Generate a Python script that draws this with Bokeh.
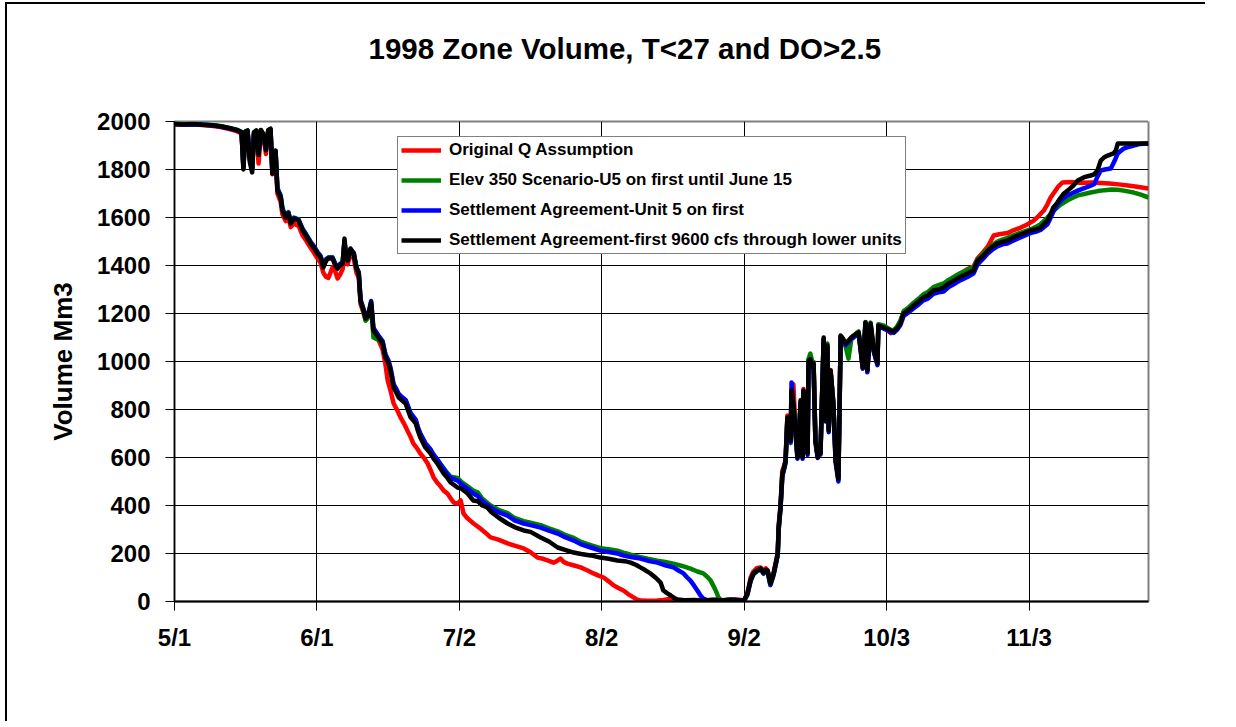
from bokeh.plotting import figure
from bokeh.models import FixedTicker, Range1d, LinearAxis, Title
from bokeh.embed import file_html
from bokeh.resources import INLINE

# ---------------- data (days after 5/1/1998, volume Mm3) ----------------
tick_days = [0, 31, 62, 93, 124, 155, 186]
tick_labels = ["5/1", "6/1", "7/2", "8/2", "9/2", "10/3", "11/3"]
y_ticks = [0, 200, 400, 600, 800, 1000, 1200, 1400, 1600, 1800, 2000]

series_names = [
    "Original Q Assumption",
    "Elev 350 Scenario-U5 on first until June 15",
    "Settlement Agreement-Unit 5 on first",
    "Settlement Agreement-first 9600 cfs through lower units",
]
series_colors = ["#FF0000", "#008000", "#0000FF", "#000000"]

red_day = [0, 2, 4, 6, 8, 10, 12, 13.5, 14.6, 15.0, 15.4, 15.9, 16.4, 16.9, 17.3, 17.8, 18.3, 18.8, 19.4, 19.9, 20.4, 20.9, 21.3, 21.7, 22.0, 22.4, 23.1, 23.5, 24.2, 24.8, 25.3, 26.0, 27.0, 27.9, 28.6, 29.6, 30.3, 31.1, 31.8, 32.4, 33.0, 33.5, 34.4, 35.0, 35.5, 36.0, 36.6, 37.0, 37.3, 37.7, 38.3, 39.0, 39.6, 40.1, 40.5, 41.1, 41.6, 42.2, 42.8, 43.3, 44.4, 45.3, 45.9, 46.4, 47.0, 47.7, 48.4, 49.2, 50.0, 50.7, 51.4, 52.0, 52.8, 53.5, 54.3, 55.1, 55.8, 56.4, 57.2, 57.9, 58.6, 59.4, 60.1, 60.8, 61.6, 62.3, 62.9, 63.6, 64.3, 65.1, 66.5, 67.6, 68.8, 70.5, 72.5, 74.2, 76.0, 77.5, 79.0, 80.2, 81.2, 82.5, 83.2, 84.0, 84.7, 85.5, 87.0, 88.4, 89.8, 91.2, 92.3, 93.4, 94.5, 95.6, 96.6, 97.7, 98.8, 99.9, 100.6, 101.4, 103, 105.1, 106.5, 108.0, 109, 110.1, 112, 114, 116, 118, 120, 122, 124.0, 124.7, 125.4, 126.0, 126.8, 127.6, 128.2, 128.7, 129.1, 129.7, 130.4, 131.0, 131.3, 131.5, 131.9, 132.3, 132.7, 133.0, 133.4, 133.7, 134.1, 134.3, 134.7, 135.2, 135.6, 136.0, 136.3, 136.7, 136.9, 137.4, 137.8, 138.0, 138.4, 138.8, 139.1, 139.5, 140.0, 140.3, 140.6, 141.3, 141.7, 142.1, 142.4, 142.8, 143.4, 143.9, 144.5, 145.0, 145.5, 146.1, 146.7, 147.3, 147.8, 148.4, 148.9, 149.3, 149.8, 150.4, 150.8, 151.5, 152.2, 153.0, 153.2, 154.3, 155.2, 155.9, 156.6, 157.4, 158.0, 158.7, 159.8, 160.9, 162.0, 163.0, 164.0, 165.2, 166.3, 167.4, 168.5, 169.6, 171.0, 172.6, 173.9, 174.8, 176.0, 177.0, 178.3, 179.5, 181.3, 182.4, 184.2, 185.5, 187.0, 188.0, 189.2, 190.0, 190.7, 191.5, 192.4, 193.3, 195.0, 197.0, 199.4, 201.6, 203.5, 205.5, 207.5, 209.5, 212]
red_vol = [1988, 1987, 1988, 1985, 1982, 1977, 1968, 1960, 1950, 1805, 1950, 1955, 1845, 1800, 1945, 1950, 1825, 1950, 1935, 1865, 1955, 1960, 1780, 1850, 1860, 1700, 1665, 1612, 1585, 1598, 1560, 1575, 1565, 1525, 1505, 1475, 1455, 1430, 1410, 1370, 1352, 1348, 1392, 1375, 1346, 1360, 1385, 1470, 1420, 1405, 1450, 1430, 1370, 1350, 1240, 1205, 1172, 1185, 1235, 1120, 1090, 1050, 990, 921, 880, 825, 800, 767, 740, 712, 685, 658, 638, 617, 598, 575, 545, 517, 495, 480, 462, 450, 430, 412, 408, 421, 367, 350, 338, 325, 305, 288, 267, 258, 242, 232, 221, 205, 183, 178, 171, 162, 168, 179, 165, 158, 150, 142, 130, 117, 108, 100, 84, 67, 56, 46, 30, 17, 9, 4, 3, 4, 6, 12, 8, 5, 4, 6, 3, 7, 4, 8, 5, 35, 100, 125, 140, 142, 125, 138, 130, 78, 120, 175, 205, 320, 400, 545, 565, 590, 775, 705, 675, 870, 905, 705, 605, 725, 830, 605, 885, 700, 620, 995, 1005, 985, 990, 675, 605, 645, 620, 1095, 760, 1070, 715, 965, 830, 590, 515, 1105, 1092, 1072, 1085, 1098, 1105, 1112, 1118, 1058, 972, 1160, 960, 1155, 1045, 990, 1148, 1140, 1130, 1118, 1122, 1145, 1165, 1205, 1222, 1240, 1258, 1275, 1285, 1305, 1312, 1320, 1335, 1348, 1365, 1385, 1395, 1430, 1455, 1478, 1525, 1530, 1535, 1545, 1558, 1570, 1587, 1605, 1629, 1655, 1683, 1705, 1730, 1746, 1748, 1745, 1746, 1744, 1742, 1738, 1733, 1728, 1721]

green_day = [0, 2, 4, 6, 8, 10, 12, 13.5, 14.6, 15.0, 15.4, 15.9, 16.4, 16.9, 17.3, 17.8, 18.3, 18.8, 19.4, 19.9, 20.4, 20.9, 21.3, 21.7, 22.0, 22.4, 23.1, 23.5, 24.2, 24.8, 25.3, 26.0, 27.0, 27.9, 28.6, 29.6, 30.3, 31.1, 31.8, 32.4, 33.0, 33.5, 34.4, 35.0, 35.5, 36.0, 36.6, 37.0, 37.3, 37.7, 38.3, 39.0, 39.6, 40.1, 40.5, 41.1, 41.6, 42.2, 42.8, 43.3, 44.4, 45.3, 45.9, 46.6, 47.0, 47.7, 48.3, 48.8, 49.5, 50.3, 51.4, 52.5, 53.0, 53.5, 54.6, 55.7, 56.4, 57.2, 58.6, 59.4, 60.1, 61.6, 62.5, 63.8, 65.0, 66.0, 67.0, 68.8, 70.5, 72.5, 74.0, 76.0, 77.5, 79.7, 81.5, 83.4, 85.0, 86.9, 88.5, 90.6, 92.7, 94.5, 96.4, 98.0, 99.3, 101.4, 103.0, 105.1, 106.8, 108.6, 110.5, 112.3, 113.8, 115.1, 116.0, 116.7, 117.3, 117.8, 118.4, 119, 121, 123, 124.0, 124.7, 125.4, 126.0, 126.8, 127.6, 128.2, 128.7, 129.1, 129.7, 130.4, 131.0, 131.3, 131.5, 131.9, 132.3, 132.7, 133.0, 133.4, 133.7, 134.1, 134.3, 134.7, 135.2, 135.6, 136.0, 136.3, 136.7, 136.9, 137.4, 137.8, 138.0, 138.4, 138.8, 139.1, 139.5, 140.0, 140.3, 140.6, 141.3, 141.7, 142.1, 142.4, 142.8, 143.4, 143.9, 144.5, 145.0, 145.5, 146.1, 146.7, 147.3, 147.8, 148.4, 148.9, 149.3, 149.8, 150.4, 150.8, 151.5, 152.2, 153.0, 153.2, 154.3, 155.2, 155.9, 156.6, 157.4, 158.0, 158.7, 159.8, 160.9, 162.0, 163.0, 164.0, 165.2, 166.3, 167.4, 168.5, 169.6, 171.0, 172.6, 173.9, 174.8, 176.0, 177.0, 178.0, 179.1, 180.2, 181.3, 182.4, 183.5, 185.0, 186.3, 187.4, 188.5, 190.0, 191.3, 192.9, 194.4, 195.5, 196.6, 198.0, 199.4, 201.0, 202.5, 204.0, 205.3, 206.6, 208.8, 210.5, 212]
green_vol = [1992, 1989, 1990, 1988, 1985, 1981, 1973, 1966, 1957, 1815, 1958, 1963, 1845, 1805, 1955, 1963, 1875, 1963, 1945, 1890, 1962, 1968, 1795, 1862, 1878, 1722, 1692, 1638, 1608, 1622, 1582, 1600, 1592, 1552, 1532, 1500, 1482, 1457, 1440, 1402, 1427, 1434, 1434, 1407, 1394, 1407, 1414, 1495, 1450, 1427, 1465, 1452, 1394, 1370, 1255, 1215, 1170, 1185, 1240, 1100, 1090, 1080, 1028, 1000, 972, 900, 882, 862, 850, 838, 782, 755, 722, 698, 658, 632, 610, 590, 555, 535, 520, 515, 498, 480, 462, 455, 428, 400, 382, 368, 348, 335, 328, 318, 305, 292, 278, 265, 248, 235, 222, 218, 212, 202, 195, 185, 178, 170, 165, 158, 148, 137, 125, 117, 102, 87, 65, 46, 17, 5, 7, 4, 5, 28, 85, 112, 126, 133, 115, 128, 122, 68, 110, 165, 192, 298, 385, 525, 552, 575, 755, 695, 660, 860, 815, 720, 605, 740, 840, 610, 870, 705, 625, 1010, 1033, 1000, 998, 680, 610, 650, 625, 1090, 770, 1075, 720, 960, 830, 600, 520, 1105, 1092, 1060, 1012, 1090, 1105, 1118, 1125, 1070, 985, 1165, 970, 1162, 1055, 1000, 1155, 1150, 1140, 1132, 1130, 1150, 1170, 1210, 1225, 1245, 1262, 1280, 1290, 1310, 1318, 1325, 1340, 1352, 1368, 1382, 1392, 1425, 1448, 1468, 1485, 1500, 1508, 1515, 1524, 1532, 1542, 1550, 1560, 1572, 1600, 1628, 1654, 1672, 1682, 1692, 1698, 1704, 1710, 1714, 1717, 1716, 1712, 1704, 1694, 1683]

blue_day = [0, 2, 4, 6, 8, 10, 12, 13.5, 14.6, 15.0, 15.4, 15.9, 16.4, 16.9, 17.3, 17.8, 18.3, 18.8, 19.4, 19.9, 20.4, 20.9, 21.3, 21.7, 22.0, 22.4, 23.1, 23.5, 24.2, 24.8, 25.3, 26.0, 27.0, 27.9, 28.6, 29.6, 30.3, 31.1, 31.8, 32.4, 33.0, 33.5, 34.4, 35.0, 35.5, 36.0, 36.6, 37.0, 37.3, 37.7, 38.3, 39.0, 39.6, 40.1, 40.5, 41.1, 41.6, 42.2, 42.8, 43.3, 44.4, 45.3, 45.9, 46.6, 47.0, 47.7, 48.3, 48.8, 49.5, 50.3, 51.4, 52.5, 53.0, 53.5, 54.6, 55.7, 56.4, 57.2, 58.6, 59.4, 60.1, 61.6, 62.5, 63.8, 65.0, 66.0, 67.0, 68.8, 70.5, 72.5, 74.0, 76.0, 77.5, 79.7, 81.5, 83.4, 85.0, 86.9, 88.5, 90.6, 92.7, 94.5, 96.4, 98.0, 99.3, 101.4, 103.0, 105.1, 107.0, 108.6, 109.8, 110.8, 111.6, 112.3, 113.1, 113.8, 114.5, 115.1, 116, 118, 120, 122, 124.0, 124.7, 125.4, 126.0, 126.8, 127.6, 128.2, 128.7, 129.1, 129.7, 130.4, 131.0, 131.3, 131.5, 131.9, 132.3, 132.7, 133.0, 133.4, 133.7, 134.1, 134.3, 134.7, 135.2, 135.6, 136.0, 136.3, 136.7, 136.9, 137.4, 137.8, 138.0, 138.4, 138.8, 139.1, 139.5, 140.0, 140.3, 140.6, 141.3, 141.7, 142.1, 142.4, 142.8, 143.4, 143.9, 144.5, 145.0, 145.5, 146.1, 146.7, 147.3, 147.8, 148.4, 148.9, 149.3, 149.8, 150.4, 150.8, 151.5, 152.2, 153.0, 153.2, 154.3, 155.2, 155.9, 156.6, 157.4, 158.0, 158.7, 159.8, 160.9, 162.0, 163.0, 164.0, 165.2, 166.3, 167.4, 168.5, 169.6, 171.0, 172.6, 173.9, 174.8, 176.0, 177.0, 178.0, 179.1, 180.2, 181.3, 182.4, 183.5, 185.0, 186.3, 187.4, 188.5, 190.0, 190.6, 191.3, 192.1, 192.9, 193.6, 194.4, 195.5, 196.6, 198.0, 199.4, 200.2, 200.9, 201.6, 202.5, 203.8, 204.6, 205.3, 206.0, 206.6, 207.8, 208.8, 210, 212]
blue_vol = [1990, 1988, 1989, 1987, 1984, 1979, 1971, 1964, 1954, 1810, 1955, 1960, 1840, 1800, 1950, 1960, 1870, 1960, 1940, 1885, 1960, 1965, 1790, 1860, 1875, 1720, 1690, 1635, 1605, 1620, 1580, 1598, 1590, 1550, 1530, 1498, 1480, 1455, 1438, 1400, 1425, 1432, 1432, 1405, 1392, 1405, 1412, 1500, 1448, 1425, 1468, 1452, 1392, 1372, 1258, 1222, 1188, 1200, 1252, 1140, 1108, 1085, 1030, 1002, 975, 905, 885, 865, 852, 840, 785, 758, 725, 700, 660, 635, 612, 592, 552, 530, 515, 504, 488, 470, 450, 440, 418, 392, 372, 358, 338, 325, 318, 308, 295, 283, 268, 254, 238, 225, 212, 206, 200, 190, 185, 179, 170, 162, 150, 142, 128, 117, 100, 87, 66, 46, 25, 12, 5, 6, 3, 7, 4, 30, 88, 115, 128, 135, 118, 130, 125, 70, 112, 168, 195, 300, 390, 520, 555, 580, 760, 690, 665, 912, 820, 690, 595, 715, 830, 595, 875, 690, 610, 985, 995, 975, 985, 665, 598, 635, 612, 1090, 750, 1060, 705, 955, 818, 580, 500, 1100, 1090, 1068, 1080, 1095, 1100, 1110, 1115, 1055, 970, 1155, 955, 1150, 1040, 985, 1145, 1138, 1130, 1122, 1120, 1135, 1152, 1190, 1205, 1222, 1238, 1255, 1262, 1282, 1288, 1292, 1310, 1322, 1338, 1352, 1366, 1405, 1428, 1450, 1466, 1480, 1488, 1492, 1502, 1512, 1524, 1535, 1540, 1548, 1572, 1595, 1625, 1650, 1670, 1682, 1692, 1702, 1712, 1722, 1733, 1740, 1770, 1796, 1800, 1804, 1835, 1867, 1878, 1887, 1895, 1900, 1906, 1908]

black_day = [0, 2, 4, 6, 8, 10, 12, 13.5, 14.6, 15.0, 15.4, 15.9, 16.4, 16.9, 17.3, 17.8, 18.3, 18.8, 19.4, 19.9, 20.4, 20.9, 21.3, 21.7, 22.0, 22.4, 23.1, 23.5, 24.2, 24.8, 25.3, 26.0, 27.0, 27.9, 28.6, 29.6, 30.3, 31.1, 31.8, 32.4, 33.0, 33.5, 34.4, 35.0, 35.5, 36.0, 36.6, 37.0, 37.3, 37.7, 38.3, 39.0, 39.6, 40.1, 40.5, 41.1, 41.6, 42.2, 42.8, 43.3, 44.4, 45.3, 45.9, 46.6, 47.0, 47.7, 48.3, 48.8, 49.5, 50.3, 51.4, 52.5, 53.0, 53.5, 54.6, 55.7, 56.4, 57.2, 58.6, 59.4, 60.1, 61.6, 62.5, 63.8, 65.0, 66.0, 67.0, 68.1, 69.0, 70.5, 72.5, 74.0, 76.0, 77.5, 79.7, 81.5, 83.4, 85.0, 86.9, 88.5, 90.6, 92.7, 94.5, 96.4, 98.0, 99.3, 100.5, 101.4, 102.5, 103.6, 104.8, 105.8, 106.4, 107.2, 108.0, 108.8, 109.5, 111, 113, 115, 117, 119, 121, 123, 124.0, 124.7, 125.4, 126.0, 126.8, 127.6, 128.2, 128.7, 129.1, 129.7, 130.4, 131.0, 131.3, 131.5, 131.9, 132.3, 132.7, 133.0, 133.4, 133.7, 134.1, 134.3, 134.7, 135.2, 135.6, 136.0, 136.3, 136.7, 136.9, 137.4, 137.8, 138.0, 138.4, 138.8, 139.1, 139.5, 140.0, 140.3, 140.6, 141.3, 141.7, 142.1, 142.4, 142.8, 143.4, 143.9, 144.5, 145.0, 145.5, 146.1, 146.7, 147.3, 147.8, 148.4, 148.9, 149.3, 149.8, 150.4, 150.8, 151.5, 152.2, 153.0, 153.2, 154.3, 155.2, 155.9, 156.6, 157.4, 158.0, 158.7, 159.8, 160.9, 162.0, 163.0, 164.0, 165.2, 166.3, 167.4, 168.5, 169.6, 171.0, 172.6, 173.9, 174.8, 176.0, 177.0, 178.0, 179.1, 180.2, 181.3, 182.4, 183.5, 185.0, 186.3, 187.4, 188.5, 190.0, 190.6, 191.3, 192.1, 192.9, 193.6, 194.4, 195.5, 196.6, 198.0, 199.4, 200.2, 200.9, 201.6, 202.3, 203.1, 204.4, 204.9, 205.3, 208, 212]
black_vol = [1990, 1988, 1990, 1986, 1984, 1980, 1972, 1965, 1955, 1800, 1958, 1962, 1830, 1788, 1955, 1962, 1860, 1965, 1945, 1880, 1965, 1970, 1783, 1860, 1879, 1712, 1683, 1629, 1600, 1617, 1575, 1595, 1587, 1546, 1525, 1492, 1475, 1450, 1433, 1392, 1420, 1429, 1429, 1400, 1387, 1400, 1408, 1512, 1445, 1420, 1471, 1450, 1387, 1367, 1250, 1215, 1179, 1192, 1246, 1129, 1100, 1075, 1017, 992, 962, 892, 870, 850, 838, 825, 767, 742, 710, 683, 642, 617, 595, 575, 533, 515, 496, 475, 470, 450, 421, 418, 400, 392, 372, 350, 325, 310, 296, 290, 267, 250, 225, 215, 204, 198, 192, 183, 178, 171, 168, 162, 152, 142, 130, 117, 98, 79, 46, 35, 25, 14, 8, 5, 6, 3, 7, 4, 8, 3, 5, 33, 90, 117, 130, 137, 121, 132, 129, 75, 117, 170, 200, 308, 392, 533, 560, 587, 767, 700, 671, 880, 825, 700, 600, 720, 837, 600, 879, 700, 617, 1004, 1010, 980, 992, 671, 600, 640, 617, 1100, 754, 1067, 712, 962, 825, 587, 510, 1108, 1095, 1075, 1087, 1100, 1108, 1115, 1121, 1060, 975, 1162, 962, 1158, 1046, 992, 1150, 1142, 1135, 1129, 1125, 1142, 1160, 1200, 1215, 1233, 1250, 1267, 1275, 1296, 1300, 1308, 1325, 1337, 1352, 1367, 1379, 1421, 1440, 1462, 1478, 1492, 1498, 1504, 1515, 1525, 1535, 1546, 1550, 1558, 1587, 1610, 1642, 1660, 1683, 1700, 1712, 1730, 1754, 1768, 1775, 1780, 1796, 1837, 1850, 1858, 1867, 1880, 1908, 1908, 1908]

series_days = [red_day, green_day, blue_day, black_day]
series_vols = [red_vol, green_vol, blue_vol, black_vol]

# ---------------- figure ----------------
FONT = "Liberation Sans"

p = figure(width=1200, height=719, output_backend="svg", toolbar_location=None,
           x_range=Range1d(0, 212), y_range=Range1d(0, 2000),
           min_border_left=167, min_border_right=59,
           min_border_top=117, min_border_bottom=122,
           background_fill_color="white", border_fill_color="white")
p.styles = {"margin-left": "7px", "margin-top": "4px",
            "box-shadow": "-2px -2px 0px 0px #000"}
p.title_location = None

for d, v, c, n in zip(series_days, series_vols, series_colors, series_names):
    p.line(d, v, line_color=c, line_width=4.5, line_join="round", legend_label=n)

# axes
p.xaxis.ticker = FixedTicker(ticks=tick_days)
p.xaxis.major_label_overrides = {d: lab for d, lab in zip(tick_days, tick_labels)}
p.yaxis.ticker = FixedTicker(ticks=y_ticks)
for ax in (p.xaxis[0], p.yaxis[0]):
    ax.major_label_text_font = FONT
    ax.major_label_text_font_style = "bold"
    ax.major_label_text_font_size = "24px"
    ax.major_label_text_color = "black"
    ax.major_tick_in = 0
    ax.major_tick_out = 9
    ax.minor_tick_line_color = None
    ax.major_tick_line_color = "black"
    ax.axis_line_color = "black"
p.xaxis.axis_line_width = 2
p.yaxis.axis_line_width = 1.5
p.xaxis.major_label_standoff = 13
p.yaxis.major_label_standoff = 15

p.yaxis.axis_label = "Volume Mm3"
p.yaxis.axis_label_text_font = FONT
p.yaxis.axis_label_text_font_style = "bold"
p.yaxis.axis_label_text_font_size = "26px"
p.yaxis.axis_label_text_color = "black"
p.yaxis.axis_label_standoff = 16

p.xgrid.grid_line_color = "black"
p.ygrid.grid_line_color = "black"
p.xgrid.grid_line_width = 1
p.ygrid.grid_line_width = 1

p.outline_line_color = "#808080"
p.outline_line_width = 2

# invisible spacer between the frame and the title (a single white tick)
spacer = LinearAxis(ticker=FixedTicker(ticks=[212]), axis_line_color=None,
                    major_tick_line_color="white", minor_tick_line_color=None,
                    major_tick_in=0, major_tick_out=52, minor_tick_out=0,
                    major_label_standoff=0, major_label_text_font_size="1px",
                    major_label_text_color="white",
                    major_label_overrides={212: ""})
p.add_layout(spacer, "above")

# title (outside the spacer)
title = Title(text="1998 Zone Volume, T<27 and DO>2.5", align="left", offset=194,
              standoff=10, text_font=FONT, text_font_style="bold",
              text_font_size="29.5px", text_color="black")
p.add_layout(title, "above")

# legend
lg = p.legend[0]
lg.location = (223, 347)
lg.margin = 0
lg.padding = 3
lg.spacing = 10
lg.glyph_width = 40
lg.glyph_height = 20
lg.label_height = 20
lg.label_standoff = 8
lg.label_text_font = FONT
lg.label_text_font_style = "bold"
lg.label_text_font_size = "17px"
lg.label_text_color = "black"
lg.border_line_color = "black"
lg.border_line_width = 1
lg.background_fill_color = "white"
lg.background_fill_alpha = 1.0

open("out.html", "w").write(file_html(p, INLINE))
